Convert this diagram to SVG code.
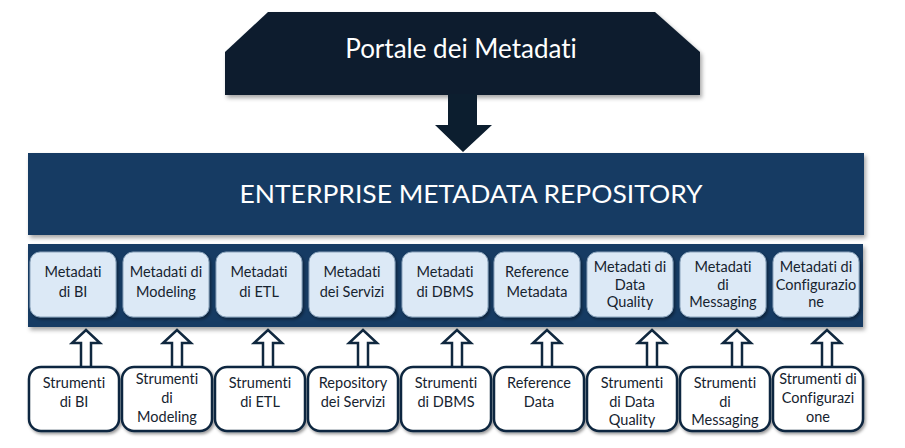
<svg xmlns="http://www.w3.org/2000/svg" width="905" height="448" viewBox="0 0 905 448">
<defs>
<filter id="sh" x="-5%" y="-10%" width="110%" height="130%">
<feDropShadow dx="2" dy="3" stdDeviation="2" flood-color="#000" flood-opacity="0.35"/>
</filter>
<filter id="sh2" x="-10%" y="-10%" width="125%" height="130%">
<feDropShadow dx="1.5" dy="2" stdDeviation="1.5" flood-color="#000" flood-opacity="0.4"/>
</filter>
</defs>
<style>
.dark{fill:#0c1e2f}
.bar{fill:#133b64}
.inner{fill:#dce9f6;stroke:#8aa3bb;stroke-width:1}
.src{fill:#ffffff;stroke:#10283f;stroke-width:2.5}
.arr{fill:#ffffff;stroke:#10283f;stroke-width:2.5;stroke-linejoin:miter}
text{font-family:Lato,"Open Sans","Liberation Sans",sans-serif;text-anchor:middle;font-variant-ligatures:none}
.t1{fill:#ffffff;font-size:26px}
.t2{fill:#ffffff;font-size:25px}
.tb{fill:#16232f;font-size:14.5px}
</style>
<g id="portale">
<polygon class="dark" filter="url(#sh)" points="268,12 655,12 700,52 700,95 225,95 225,52"/>
<polygon class="dark" points="448,94 477,94 477,125 492,125 463,152 435,125 448,125"/>
<text class="t1" x="461" y="58">Portale dei Metadati</text>
</g>
<g id="repository">
<rect class="bar" filter="url(#sh)" x="28" y="153" width="836" height="82"/>
<text class="t2" x="471" y="203" textLength="463" lengthAdjust="spacingAndGlyphs">ENTERPRISE METADATA REPOSITORY</text>
</g>
<g id="metadati-bar">
<rect class="bar" filter="url(#sh)" x="28" y="244" width="835" height="83"/>
</g>
<g id="m-bi"><rect class="inner" filter="url(#sh2)" x="30" y="252" width="86" height="65" rx="10"/><text class="tb" x="73" y="277">Metadati</text><text class="tb" x="73" y="297">di BI</text></g>
<g id="m-modeling"><rect class="inner" filter="url(#sh2)" x="123" y="252" width="86" height="65" rx="10"/><text class="tb" x="166" y="277">Metadati di</text><text class="tb" x="166" y="297">Modeling</text></g>
<g id="m-etl"><rect class="inner" filter="url(#sh2)" x="216" y="252" width="86" height="65" rx="10"/><text class="tb" x="259" y="277">Metadati</text><text class="tb" x="259" y="297">di ETL</text></g>
<g id="m-servizi"><rect class="inner" filter="url(#sh2)" x="309" y="252" width="86" height="65" rx="10"/><text class="tb" x="352" y="277">Metadati</text><text class="tb" x="352" y="297">dei Servizi</text></g>
<g id="m-dbms"><rect class="inner" filter="url(#sh2)" x="402" y="252" width="86" height="65" rx="10"/><text class="tb" x="445" y="277">Metadati</text><text class="tb" x="445" y="297">di DBMS</text></g>
<g id="m-reference"><rect class="inner" filter="url(#sh2)" x="494" y="252" width="86" height="65" rx="10"/><text class="tb" x="537" y="277">Reference</text><text class="tb" x="537" y="297">Metadata</text></g>
<g id="m-dq"><rect class="inner" filter="url(#sh2)" x="587" y="252" width="86" height="65" rx="10"/><text class="tb" x="630" y="272">Metadati di</text><text class="tb" x="630" y="290">Data</text><text class="tb" x="630" y="307">Quality</text></g>
<g id="m-messaging"><rect class="inner" filter="url(#sh2)" x="680" y="252" width="86" height="65" rx="10"/><text class="tb" x="723" y="272">Metadati</text><text class="tb" x="723" y="290">di</text><text class="tb" x="723" y="307">Messaging</text></g>
<g id="m-config"><rect class="inner" filter="url(#sh2)" x="773" y="252" width="86" height="65" rx="10"/><text class="tb" x="816" y="272">Metadati di</text><text class="tb" x="816" y="290">Configurazio</text><text class="tb" x="816" y="307">ne</text></g>
<g id="connectors">
<path class="arr" d="M81,368 V343 H72 L86,330 L100,343 H91 V368"/>
<path class="arr" d="M172,368 V343 H163 L177,330 L191,343 H182 V368"/>
<path class="arr" d="M263,368 V343 H254 L268,330 L282,343 H273 V368"/>
<path class="arr" d="M358,368 V343 H349 L363,330 L377,343 H368 V368"/>
<path class="arr" d="M452,368 V343 H443 L457,330 L471,343 H462 V368"/>
<path class="arr" d="M542,368 V343 H533 L547,330 L561,343 H552 V368"/>
<path class="arr" d="M647,368 V343 H638 L652,330 L666,343 H657 V368"/>
<path class="arr" d="M732,368 V343 H723 L737,330 L751,343 H742 V368"/>
<path class="arr" d="M822,368 V343 H813 L827,330 L841,343 H832 V368"/>
</g>
<g id="s-bi"><rect class="src" filter="url(#sh2)" x="29" y="367" width="90" height="64" rx="12"/><text class="tb" x="74" y="388">Strumenti</text><text class="tb" x="74" y="407">di BI</text></g>
<g id="s-modeling"><rect class="src" filter="url(#sh2)" x="122" y="367" width="90" height="64" rx="12"/><text class="tb" x="167" y="384">Strumenti</text><text class="tb" x="167" y="403">di</text><text class="tb" x="167" y="422">Modeling</text></g>
<g id="s-etl"><rect class="src" filter="url(#sh2)" x="215" y="367" width="90" height="64" rx="12"/><text class="tb" x="260" y="388">Strumenti</text><text class="tb" x="260" y="407">di ETL</text></g>
<g id="s-servizi"><rect class="src" filter="url(#sh2)" x="308" y="367" width="90" height="64" rx="12"/><text class="tb" x="353" y="388">Repository</text><text class="tb" x="353" y="407">dei Servizi</text></g>
<g id="s-dbms"><rect class="src" filter="url(#sh2)" x="401" y="367" width="90" height="64" rx="12"/><text class="tb" x="446" y="388">Strumenti</text><text class="tb" x="446" y="407">di DBMS</text></g>
<g id="s-reference"><rect class="src" filter="url(#sh2)" x="494" y="367" width="90" height="64" rx="12"/><text class="tb" x="539" y="388">Reference</text><text class="tb" x="539" y="407">Data</text></g>
<g id="s-dq"><rect class="src" filter="url(#sh2)" x="587" y="367" width="90" height="64" rx="12"/><text class="tb" x="632" y="388">Strumenti</text><text class="tb" x="632" y="407">di Data</text><text class="tb" x="632" y="425">Quality</text></g>
<g id="s-messaging"><rect class="src" filter="url(#sh2)" x="680" y="367" width="90" height="64" rx="12"/><text class="tb" x="725" y="388">Strumenti</text><text class="tb" x="725" y="407">di</text><text class="tb" x="725" y="425">Messaging</text></g>
<g id="s-config"><rect class="src" filter="url(#sh2)" x="773" y="367" width="90" height="64" rx="12"/><text class="tb" x="818" y="384">Strumenti di</text><text class="tb" x="818" y="403">Configurazi</text><text class="tb" x="818" y="422">one</text></g>
</svg>
